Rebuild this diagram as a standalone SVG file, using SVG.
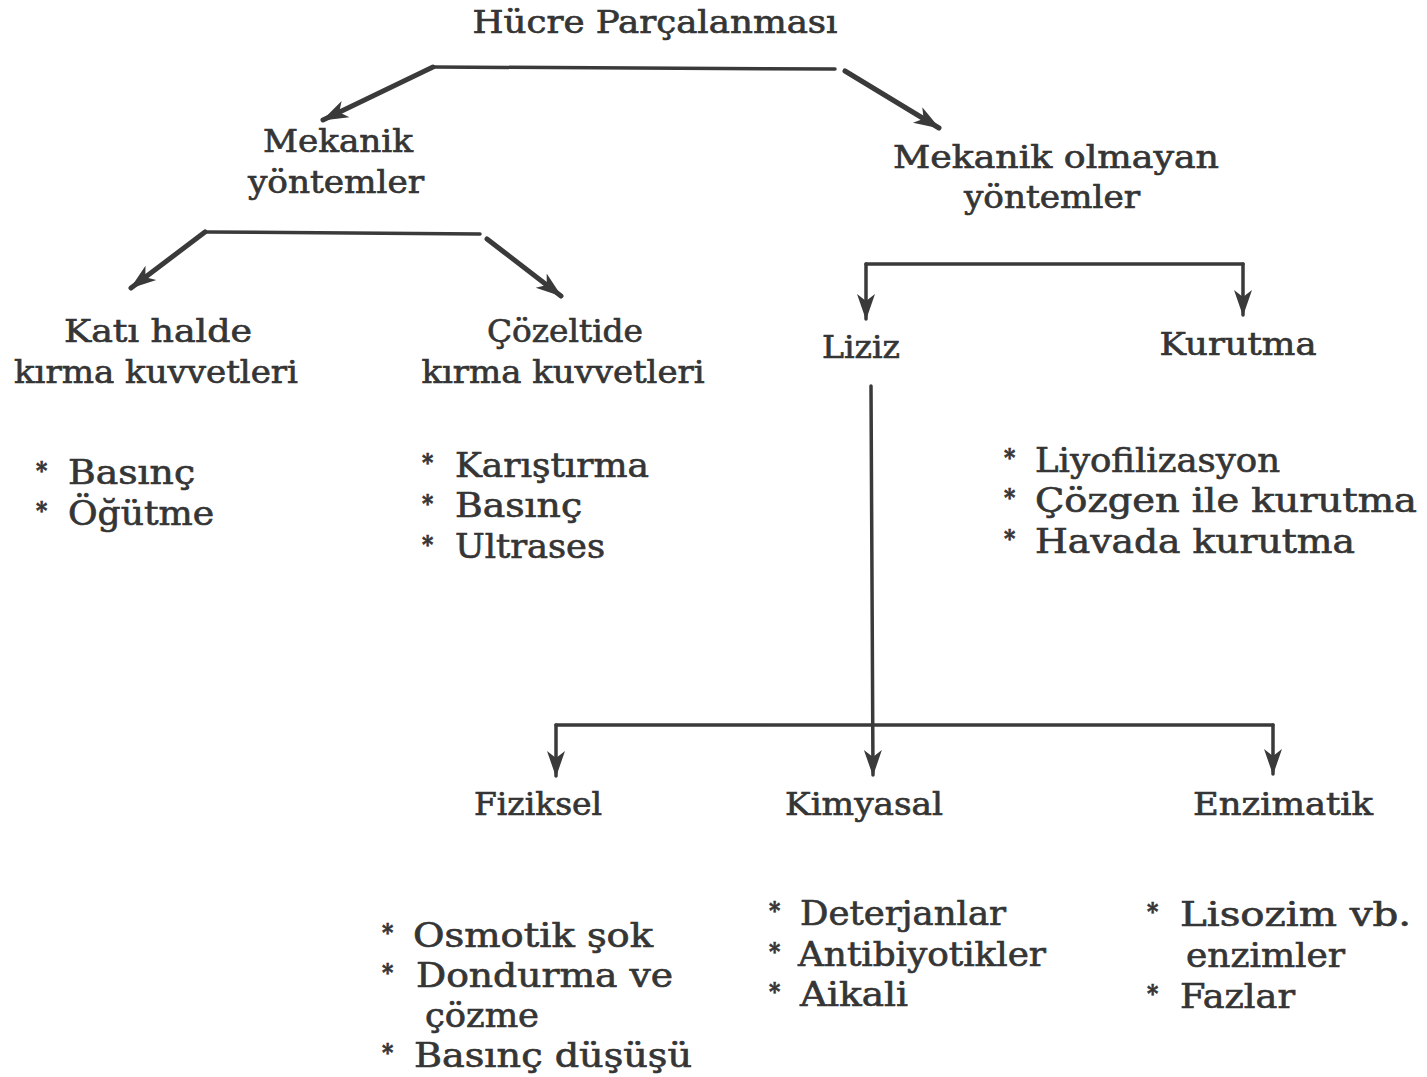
<svg xmlns="http://www.w3.org/2000/svg" width="1427" height="1077" viewBox="0 0 1427 1077">
<style>
text{font-family:"DejaVu Serif Condensed","DejaVu Serif","Liberation Serif",serif;fill:#353535;stroke:#353535;stroke-width:0.6}
.h{font-size:31px;text-anchor:middle}
.l{font-size:33px}
.s{font-size:24px;font-weight:bold}
.c{stroke:#3a3a3a;stroke-width:4;fill:none;stroke-linecap:round;stroke-linejoin:round}
.d{stroke-width:5}
.t{stroke-width:3.5}
</style>
<defs>
<marker id="a" markerUnits="userSpaceOnUse" markerWidth="30" markerHeight="22" refX="25" refY="10" orient="auto">
<path d="M0,1 L26,10 L0,19 L7,10 z" fill="#3a3a3a"/>
</marker>
</defs>
<rect width="1427" height="1077" fill="#ffffff"/>
<g id="connectors">
<path class="c t" d="M433,67 L835,69"/>
<path class="c d" d="M433,67 L323,120" marker-end="url(#a)"/>
<path class="c d" d="M845,71 L939,128" marker-end="url(#a)"/>
<path class="c t" d="M205,232 L480,234"/>
<path class="c d" d="M205,232 L131,288" marker-end="url(#a)"/>
<path class="c d" d="M487,239 L561,296" marker-end="url(#a)"/>
<path class="c t" d="M866,264 L1243,264"/>
<path class="c t" d="M866,264 L866,319" marker-end="url(#a)"/>
<path class="c t" d="M1243,264 L1243,315" marker-end="url(#a)"/>
<path class="c t" d="M871,386 L873,775" marker-end="url(#a)"/>
<path class="c t" d="M556,725 L1273,725"/>
<path class="c t" d="M556,725 L556,776" marker-end="url(#a)"/>
<path class="c t" d="M1273,725 L1273,774" marker-end="url(#a)"/>
</g>
<g id="root"><text class="h" x="655" y="33" textLength="365" lengthAdjust="spacingAndGlyphs">Hücre Parçalanması</text></g>
<g id="mekanik">
<text class="h" x="338" y="152" textLength="150" lengthAdjust="spacingAndGlyphs">Mekanik</text>
<text class="h" x="336" y="193" textLength="176" lengthAdjust="spacingAndGlyphs">yöntemler</text>
</g>
<g id="mekanik-olmayan">
<text class="h" x="1056" y="168" textLength="326" lengthAdjust="spacingAndGlyphs">Mekanik olmayan</text>
<text class="h" x="1052" y="208" textLength="176" lengthAdjust="spacingAndGlyphs">yöntemler</text>
</g>
<g id="kati">
<text class="h" x="158" y="342" textLength="188" lengthAdjust="spacingAndGlyphs">Katı  halde</text>
<text class="h" x="156" y="383" textLength="284" lengthAdjust="spacingAndGlyphs">kırma kuvvetleri</text>
</g>
<g id="cozeltide">
<text class="h" x="565" y="342" textLength="156" lengthAdjust="spacingAndGlyphs">Çözeltide</text>
<text class="h" x="563" y="383" textLength="283" lengthAdjust="spacingAndGlyphs">kırma kuvvetleri</text>
</g>
<g id="kati-list">
<text class="s" x="36" y="479">*</text><text class="l" x="68" y="484" textLength="127" lengthAdjust="spacingAndGlyphs">Basınç</text>
<text class="s" x="36" y="519">*</text><text class="l" x="68" y="525" textLength="146" lengthAdjust="spacingAndGlyphs">Öğütme</text>
</g>
<g id="cozeltide-list">
<text class="s" x="422" y="471">*</text><text class="l" x="455" y="477" textLength="194" lengthAdjust="spacingAndGlyphs">Karıştırma</text>
<text class="s" x="422" y="512">*</text><text class="l" x="455" y="517" textLength="127" lengthAdjust="spacingAndGlyphs">Basınç</text>
<text class="s" x="422" y="553">*</text><text class="l" x="455" y="558" textLength="150" lengthAdjust="spacingAndGlyphs">Ultrases</text>
</g>
<g id="liziz"><text class="h" x="861" y="358" textLength="78" lengthAdjust="spacingAndGlyphs">Liziz</text></g>
<g id="kurutma"><text class="h" x="1238" y="355" textLength="157" lengthAdjust="spacingAndGlyphs">Kurutma</text></g>
<g id="kurutma-list">
<text class="s" x="1004" y="466">*</text><text class="l" x="1035" y="472" textLength="245" lengthAdjust="spacingAndGlyphs">Liyofilizasyon</text>
<text class="s" x="1004" y="506">*</text><text class="l" x="1035" y="512" textLength="382" lengthAdjust="spacingAndGlyphs">Çözgen  ile  kurutma</text>
<text class="s" x="1004" y="547">*</text><text class="l" x="1035" y="553" textLength="320" lengthAdjust="spacingAndGlyphs">Havada  kurutma</text>
</g>
<g id="fiziksel"><text class="h" x="538" y="815" textLength="128" lengthAdjust="spacingAndGlyphs">Fiziksel</text></g>
<g id="kimyasal"><text class="h" x="864" y="815" textLength="158" lengthAdjust="spacingAndGlyphs">Kimyasal</text></g>
<g id="enzimatik"><text class="h" x="1283" y="815" textLength="180" lengthAdjust="spacingAndGlyphs">Enzimatik</text></g>
<g id="fiziksel-list">
<text class="s" x="382" y="941">*</text><text class="l" x="413" y="947" textLength="240" lengthAdjust="spacingAndGlyphs">Osmotik  şok</text>
<text class="s" x="382" y="981">*</text><text class="l" x="416" y="987" textLength="257" lengthAdjust="spacingAndGlyphs">Dondurma  ve</text>
<text class="l" x="425" y="1027" textLength="114" lengthAdjust="spacingAndGlyphs">çözme</text>
<text class="s" x="382" y="1061">*</text><text class="l" x="414" y="1067" textLength="278" lengthAdjust="spacingAndGlyphs">Basınç  düşüşü</text>
</g>
<g id="kimyasal-list">
<text class="s" x="769" y="919">*</text><text class="l" x="800" y="925" textLength="206" lengthAdjust="spacingAndGlyphs">Deterjanlar</text>
<text class="s" x="769" y="960">*</text><text class="l" x="798" y="966" textLength="248" lengthAdjust="spacingAndGlyphs">Antibiyotikler</text>
<text class="s" x="769" y="1000">*</text><text class="l" x="800" y="1006" textLength="108" lengthAdjust="spacingAndGlyphs">Aikali</text>
</g>
<g id="enzimatik-list">
<text class="s" x="1147" y="920">*</text><text class="l" x="1180" y="926" textLength="231" lengthAdjust="spacingAndGlyphs">Lisozim  vb.</text>
<text class="l" x="1186" y="967" textLength="159" lengthAdjust="spacingAndGlyphs">enzimler</text>
<text class="s" x="1147" y="1002">*</text><text class="l" x="1180" y="1008" textLength="115" lengthAdjust="spacingAndGlyphs">Fazlar</text>
</g>
</svg>
